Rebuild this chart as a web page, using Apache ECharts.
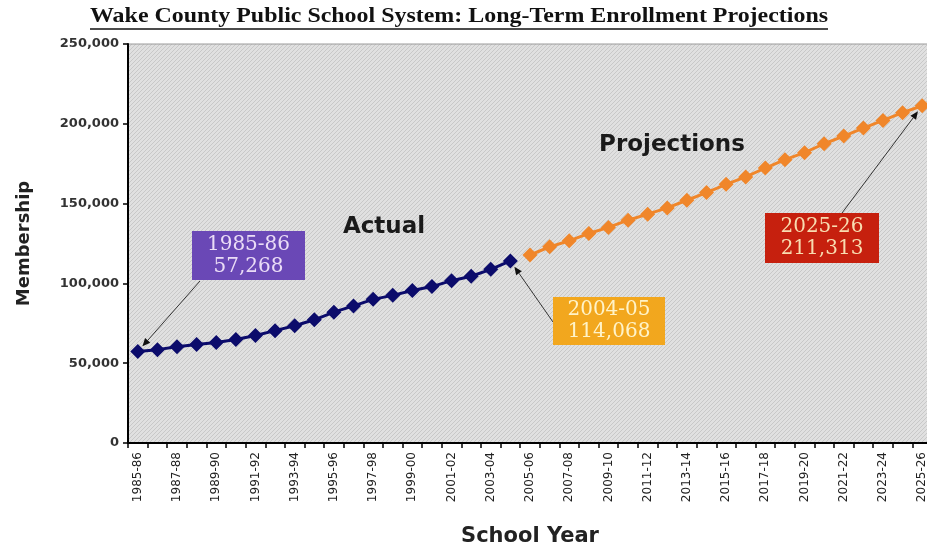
<!DOCTYPE html>
<html><head><meta charset="utf-8">
<script src="https://cdn.jsdelivr.net/npm/echarts@6/dist/echarts.min.js"></script>
<style>html,body{margin:0;padding:0;background:#fff}#c{width:927px;height:546px}</style>
</head><body><div id="c"></div>
<script>
const chartTitle = 'Wake County Public School System: Long-Term Enrollment Projections';
const categories = ['1985-86','1986-87','1987-88','1988-89','1989-90','1990-91','1991-92','1992-93','1993-94','1994-95',
  '1995-96','1996-97','1997-98','1998-99','1999-00','2000-01','2001-02','2002-03','2003-04','2004-05',
  '2005-06','2006-07','2007-08','2008-09','2009-10','2010-11','2011-12','2012-13','2013-14','2014-15',
  '2015-16','2016-17','2017-18','2018-19','2019-20','2020-21','2021-22','2022-23','2023-24','2024-25','2025-26'];
const actual = [57268,58500,60300,61700,63000,64900,67400,70400,73500,77200,
  82000,85900,90000,92500,95500,98000,101700,104500,108800,114068];
const projections = [117800,122900,126700,131300,135100,139600,143400,147300,152100,156900,
  162100,166700,172300,177500,181900,187500,192300,197300,202100,207000,211313];
const yMin = 0, yMax = 250000, yStep = 50000;
const seriesNames = ['Actual', 'Projections'];

const fmt = v => v.toLocaleString('en-US');
const actualData = categories.map((c, i) => i < actual.length ? actual[i] : '-');
const projData = categories.map((c, i) => i >= actual.length ? projections[i - actual.length] : '-');

// hatch pattern background
const pc = document.createElement('canvas');
pc.width = 4; pc.height = 4;
const pctx = pc.getContext('2d');
pctx.fillStyle = '#e0e0e0'; pctx.fillRect(0, 0, 4, 4);
pctx.strokeStyle = '#c8c8c8'; pctx.lineWidth = 1;
pctx.beginPath(); pctx.moveTo(0, 4); pctx.lineTo(4, 0); pctx.stroke();
pctx.beginPath(); pctx.moveTo(-1, 1); pctx.lineTo(1, -1); pctx.stroke();
pctx.beginPath(); pctx.moveTo(3, 5); pctx.lineTo(5, 3); pctx.stroke();

const chart = echarts.init(document.getElementById('c'), null, {renderer: 'canvas'});

const option = {
  animation: false,
  backgroundColor: '#ffffff',
  grid: {
    left: 128, right: -5, top: 44, bottom: 103,
    outerBoundsMode: 'none',
    containLabel: false,
    show: true,
    backgroundColor: {image: pc, repeat: 'repeat'},
    borderColor: '#9a9a9a', borderWidth: 1
  },
  xAxis: {
    type: 'category',
    data: categories,
    boundaryGap: true,
    name: 'School Year',
    nameLocation: 'middle',
    nameGap: 83,
    nameTextStyle: {fontFamily: 'DejaVu Sans', fontWeight: 'bold', fontSize: 21, color: '#222'},
    axisLine: {show: true, lineStyle: {color: '#000', width: 2}},
    axisTick: {show: true, interval: 0, length: 5, lineStyle: {color: '#000', width: 1.5}},
    axisLabel: {interval: 1, rotate: 90, margin: 9, fontFamily: 'DejaVu Sans', fontSize: 12, color: '#222'},
    splitLine: {show: false}
  },
  yAxis: {
    type: 'value',
    min: yMin, max: yMax, interval: yStep,
    name: 'Membership',
    nameLocation: 'middle',
    nameGap: 95,
    nameTextStyle: {fontFamily: 'DejaVu Sans', fontWeight: 'bold', fontSize: 18, color: '#222'},
    axisLine: {show: true, lineStyle: {color: '#000', width: 2}},
    axisTick: {show: true, length: 5, lineStyle: {color: '#000', width: 1.5}},
    axisLabel: {margin: 9, fontFamily: 'DejaVu Sans', fontWeight: 'bold', fontSize: 13, color: '#333', formatter: v => fmt(v)},
    splitLine: {show: false}
  },
  series: [
    {
      name: seriesNames[0], type: 'line', data: actualData,
      symbol: 'diamond', symbolSize: 15, showSymbol: true, showAllSymbol: true,
      itemStyle: {color: '#0b0b6b'},
      lineStyle: {color: '#0b0b6b', width: 3},
      z: 3
    },
    {
      name: seriesNames[1], type: 'line', data: projData,
      symbol: 'diamond', symbolSize: 15, showSymbol: true, showAllSymbol: true,
      itemStyle: {color: '#f0862a'},
      lineStyle: {color: '#f0862a', width: 3},
      z: 3
    }
  ]
};
chart.setOption(option);

// annotations
function measure(text, font) {
  const c = document.createElement('canvas').getContext('2d');
  c.font = font; return c.measureText(text).width;
}
const titleFont = 'bold 21px "Liberation Serif"';
const tw = measure(chartTitle, titleFont);
const targetW = 738;
const sx = targetW / tw;
const tcx = 459;

const boxes = [
  {idx: 0, series: 0, value: actual[0], color: '#6a48b6', textColor: '#eadcf6', x: 192, y: 231, w: 113, h: 49, from: [200, 281]},
  {idx: actual.length - 1, series: 0, value: actual[actual.length - 1], color: '#f2a71e', textColor: '#fff3c8', x: 553, y: 297, w: 112, h: 48, from: [553, 322]},
  {idx: categories.length - 1, series: 1, value: projections[projections.length - 1], color: '#c6200e', textColor: '#f8dcb0', x: 765, y: 213, w: 114, h: 50, from: [842, 213]}
];

const graphics = [
  {type: 'text', x: tcx, y: 17, scaleX: sx, z: 10,
   style: {text: chartTitle, font: titleFont, fill: '#111', align: 'center', verticalAlign: 'middle', textAlign: 'center', textVerticalAlign: 'middle'}},
  {type: 'line', z: 10, shape: {x1: tcx - targetW / 2, y1: 29, x2: tcx + targetW / 2, y2: 29}, style: {stroke: '#111', lineWidth: 1.5}},
  {type: 'text', x: 384, y: 227, z: 10,
   style: {text: seriesNames[0], font: 'bold 23px "DejaVu Sans"', fill: '#1a1a1a', align: 'center', verticalAlign: 'middle', textAlign: 'center', textVerticalAlign: 'middle'}},
  {type: 'text', x: 672, y: 145, z: 10,
   style: {text: seriesNames[1], font: 'bold 23px "DejaVu Sans"', fill: '#1a1a1a', align: 'center', verticalAlign: 'middle', textAlign: 'center', textVerticalAlign: 'middle'}}
];

boxes.forEach(b => {
  graphics.push({type: 'rect', z: 10, shape: {x: b.x, y: b.y, width: b.w, height: b.h}, style: {fill: b.color}});
  graphics.push({type: 'text', z: 11, x: b.x + b.w / 2, y: b.y + b.h / 2,
    style: {text: categories[b.idx] + '\n' + fmt(b.value), font: '20px "DejaVu Serif"', lineHeight: 22, fill: b.textColor,
      align: 'center', verticalAlign: 'middle', textAlign: 'center', textVerticalAlign: 'middle'}});
  const p = chart.convertToPixel({seriesIndex: b.series}, [b.idx, b.value]);
  const dx = p[0] - b.from[0], dy = p[1] - b.from[1];
  const len = Math.sqrt(dx * dx + dy * dy);
  const ux = dx / len, uy = dy / len;
  const tip = [p[0] - ux * 7, p[1] - uy * 7];
  const base = [tip[0] - ux * 8, tip[1] - uy * 8];
  const nx = -uy, ny = ux;
  graphics.push({type: 'line', z: 9, shape: {x1: b.from[0], y1: b.from[1], x2: base[0], y2: base[1]}, style: {stroke: '#333', lineWidth: 1}});
  graphics.push({type: 'polygon', z: 9, shape: {points: [tip, [base[0] + nx * 3.5, base[1] + ny * 3.5], [base[0] - nx * 3.5, base[1] - ny * 3.5]]}, style: {fill: '#111'}});
});

chart.setOption({graphic: graphics});
</script>
</body></html>
